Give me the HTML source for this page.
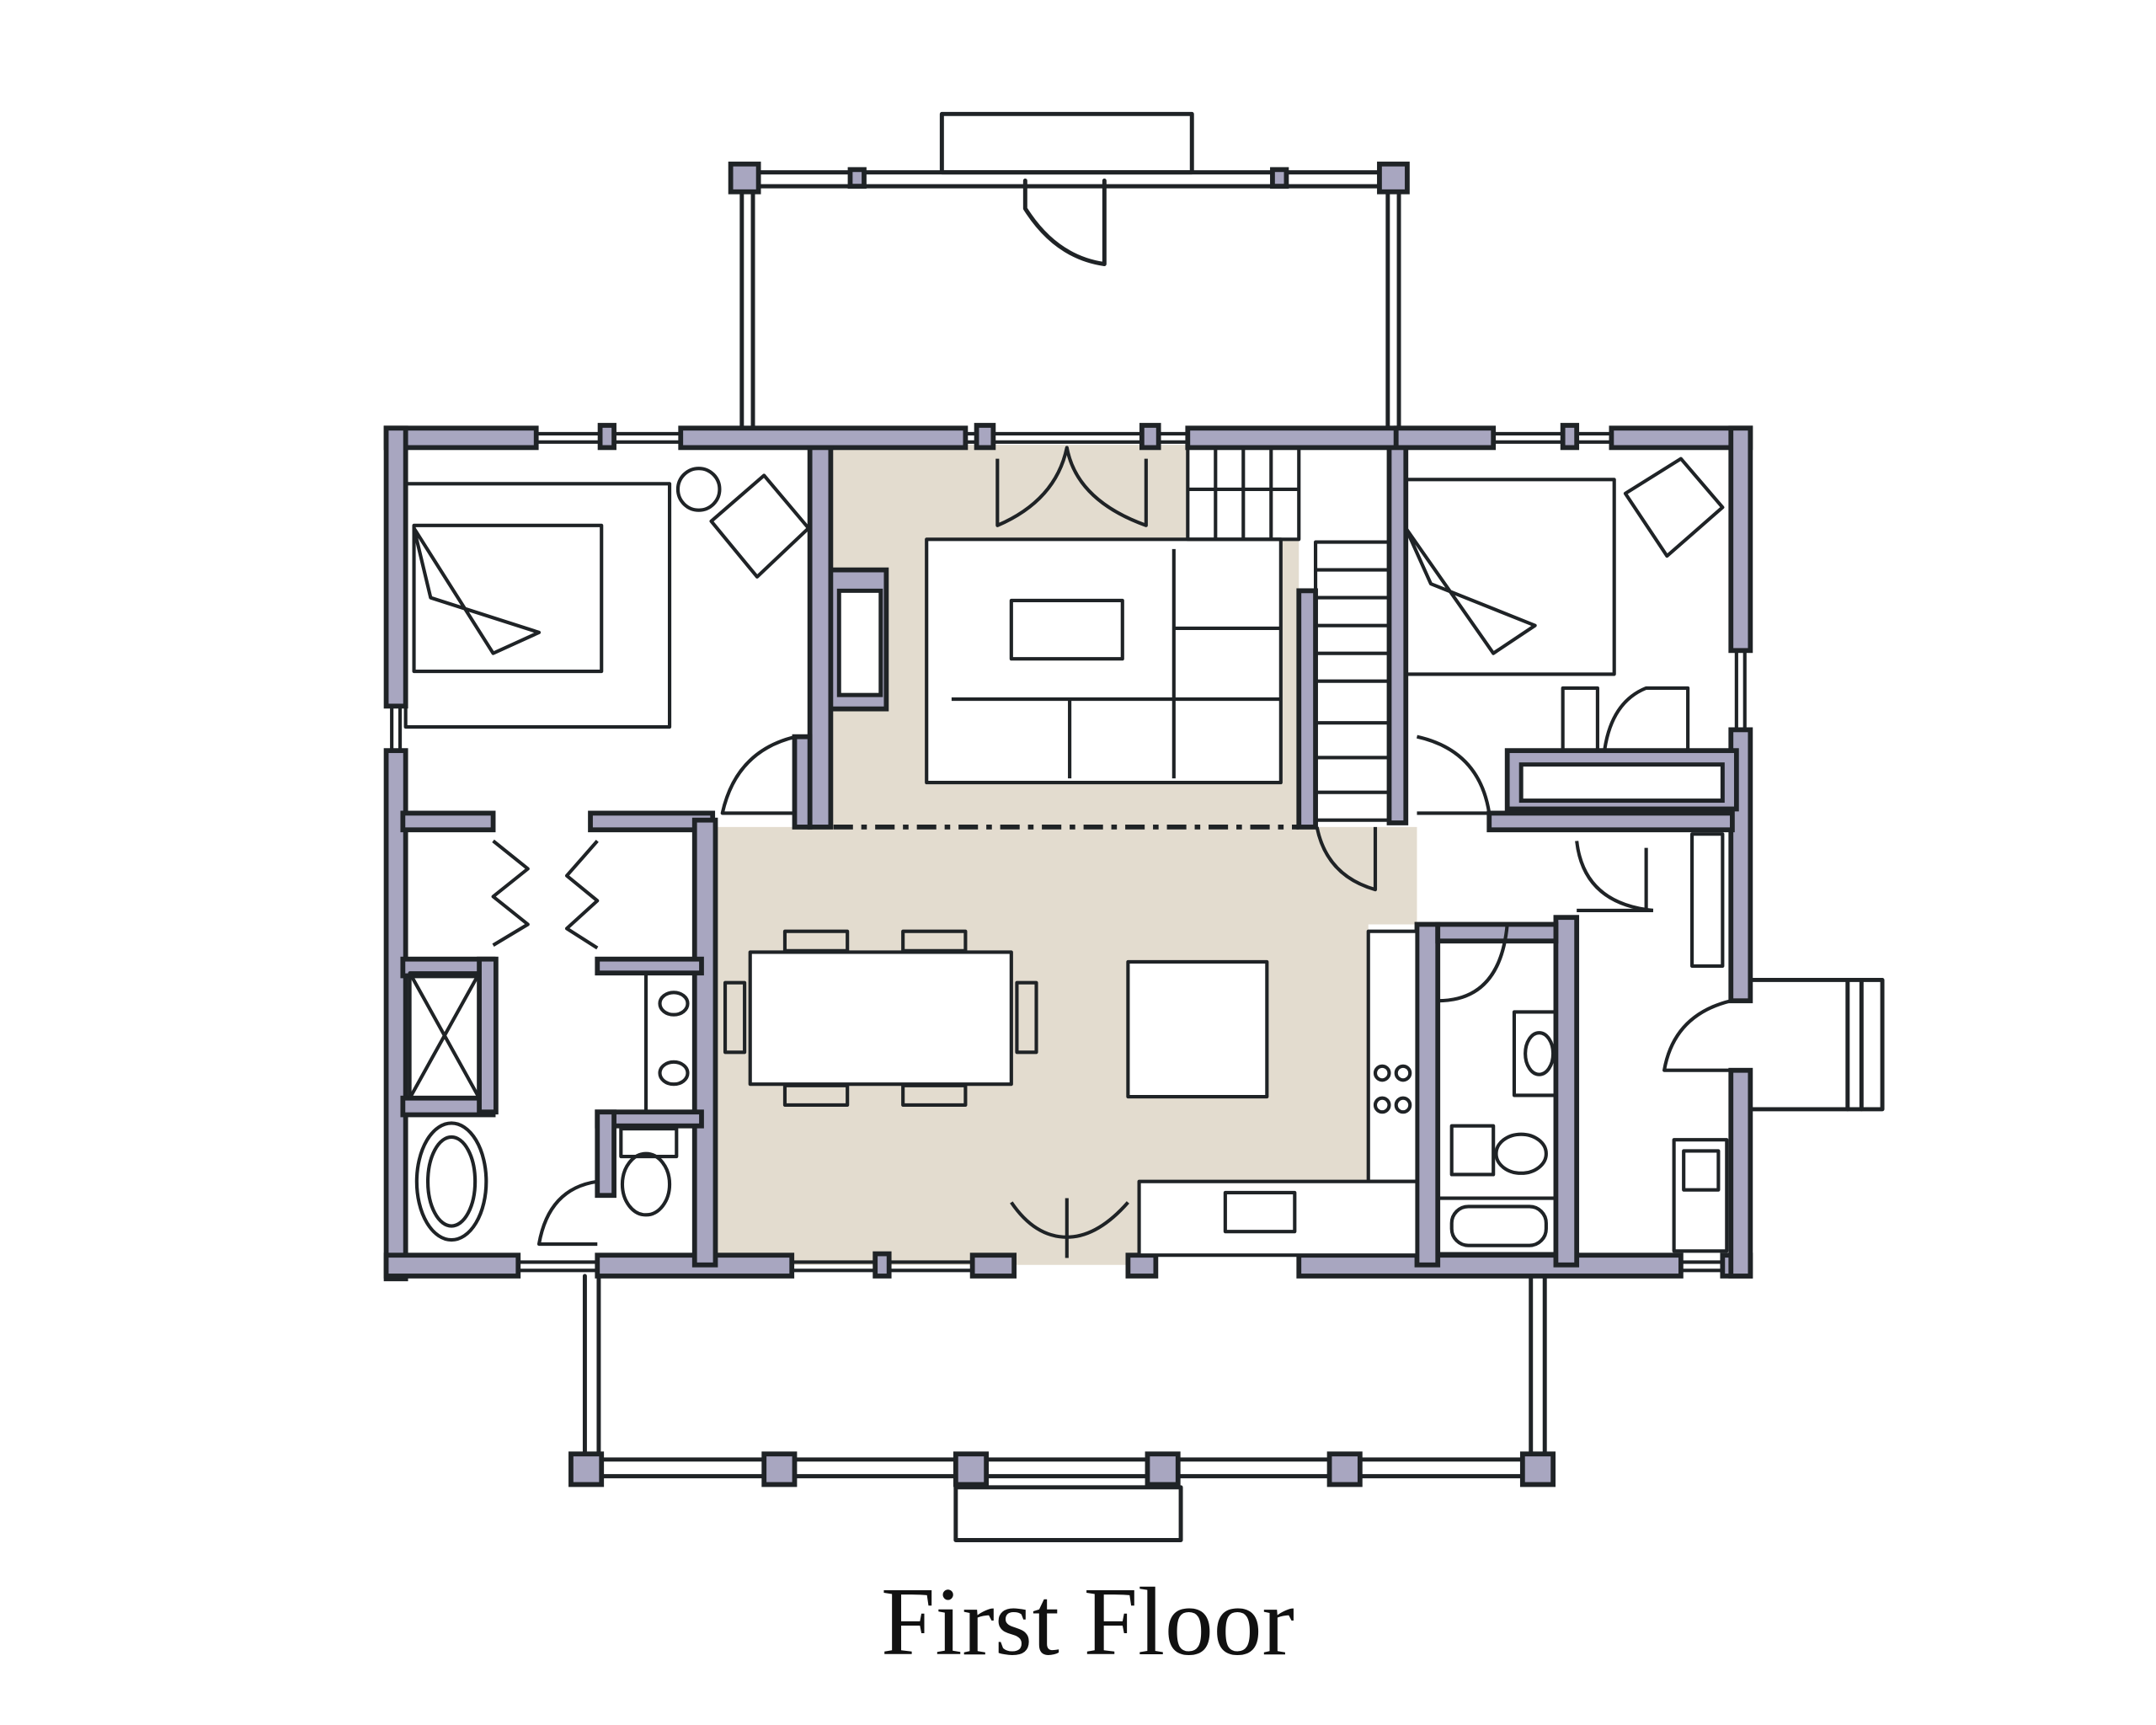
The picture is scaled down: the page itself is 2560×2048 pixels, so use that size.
<!DOCTYPE html>
<html><head><meta charset="utf-8"><style>
html,body{margin:0;padding:0;background:#fff;}
svg{display:block;}
</style></head><body>
<svg width="2560" height="2048" viewBox="0 0 1552 1241" preserveAspectRatio="none" xmlns="http://www.w3.org/2000/svg">
<rect width="1552" height="1241" fill="#fff"/>
<polygon points="598,320 855,320 855,388 935,388 935,595 1020,595 1020,665 985,665 985,850 820,850 820,910 513,910 513,595 598,595" fill="#e3dccf"/>
<g fill="none" stroke="#1f2326" stroke-width="3" stroke-linecap="round" stroke-linejoin="round">
<rect x="678" y="82" width="180" height="42"/>
<line x1="537" y1="124" x2="1003" y2="124"/>
<line x1="537" y1="134" x2="1003" y2="134"/>
<line x1="534" y1="140" x2="534" y2="310"/><line x1="542" y1="140" x2="542" y2="310"/>
<line x1="999" y1="140" x2="999" y2="310"/><line x1="1007" y1="140" x2="1007" y2="310"/>
<path d="M738 130 L738 150 Q760 185 795 190 L795 130"/>
<rect x="688" y="1070" width="162" height="38"/>
<line x1="425" y1="1050" x2="1108" y2="1050"/>
<line x1="425" y1="1062" x2="1108" y2="1062"/>
<line x1="421" y1="918" x2="421" y2="1048"/><line x1="431" y1="918" x2="431" y2="1048"/>
<line x1="1102" y1="918" x2="1102" y2="1048"/><line x1="1112" y1="918" x2="1112" y2="1048"/>
<path d="M1258 705 L1355 705 L1355 798 L1258 798"/>
<line x1="1330" y1="705" x2="1330" y2="798"/><line x1="1340" y1="705" x2="1340" y2="798"/>
</g>
<g fill="#a8a6c0" stroke="#1f2326" stroke-width="3.5">
<rect x="526" y="118" width="20" height="20"/><rect x="993" y="118" width="20" height="20"/>
<rect x="612" y="122" width="10" height="12"/><rect x="916" y="122" width="10" height="12"/>
<rect x="411" y="1046" width="22" height="22"/><rect x="550" y="1046" width="22" height="22"/>
<rect x="688" y="1046" width="22" height="22"/><rect x="826" y="1046" width="22" height="22"/>
<rect x="957" y="1046" width="22" height="22"/><rect x="1096" y="1046" width="22" height="22"/>
</g>
<g fill="#a8a6c0" stroke="#1f2326" stroke-width="3.5">
<rect x="278" y="308" width="108" height="14"/>
<rect x="490" y="308" width="205" height="14"/>
<rect x="855" y="308" width="150" height="14"/>
<rect x="1160" y="308" width="100" height="14"/>
<rect x="1005" y="308" width="70" height="14"/>
<rect x="278" y="308" width="14" height="200"/>
<rect x="278" y="540" width="14" height="380"/>
<rect x="278" y="903" width="95" height="15"/>
<rect x="430" y="903" width="140" height="15"/>
<rect x="700" y="903" width="30" height="15"/>
<rect x="812" y="903" width="20" height="15"/>
<rect x="935" y="903" width="275" height="15"/>
<rect x="1240" y="903" width="20" height="15"/>
<rect x="1246" y="308" width="14" height="160"/>
<rect x="1246" y="525" width="14" height="195"/>
<rect x="1246" y="770" width="14" height="148"/>
<rect x="583" y="322" width="15" height="273"/>
<rect x="572" y="530" width="11" height="65"/>
<rect x="598" y="410" width="40" height="100"/>
<rect x="1000" y="322" width="12" height="270"/>
<rect x="935" y="425" width="12" height="170"/>
<rect x="1085" y="540" width="165" height="42"/>
<rect x="1072" y="585" width="175" height="12"/>
<rect x="1120" y="660" width="15" height="250"/>
<rect x="1020" y="665" width="15" height="245"/>
<rect x="1035" y="665" width="85" height="12"/>
<rect x="290" y="585" width="65" height="12"/>
<rect x="425" y="585" width="88" height="12"/>
<rect x="500" y="590" width="15" height="320"/>
<rect x="290" y="690" width="65" height="12"/>
<rect x="290" y="790" width="65" height="12"/>
<rect x="430" y="690" width="75" height="10"/>
<rect x="430" y="800" width="75" height="10"/>
<rect x="430" y="800" width="12" height="60"/>
<rect x="345" y="690" width="12" height="110"/>
</g>
<g fill="#fff" stroke="#1f2326" stroke-width="3">
<rect x="604" y="425" width="30" height="75"/>
<rect x="1095" y="550" width="145" height="26"/>
</g>
<g stroke="#1f2326" stroke-width="2.5" fill="none">
<line x1="386" y1="312" x2="490" y2="312"/><line x1="386" y1="318" x2="490" y2="318"/>
<line x1="695" y1="312" x2="855" y2="312"/><line x1="695" y1="318" x2="855" y2="318"/>
<line x1="1075" y1="312" x2="1160" y2="312"/><line x1="1075" y1="318" x2="1160" y2="318"/>
<line x1="282" y1="508" x2="282" y2="540"/><line x1="288" y1="508" x2="288" y2="540"/>
<line x1="1250" y1="468" x2="1250" y2="525"/><line x1="1256" y1="468" x2="1256" y2="525"/>
<line x1="570" y1="908" x2="700" y2="908"/><line x1="570" y1="914" x2="700" y2="914"/>
<line x1="1210" y1="908" x2="1240" y2="908"/><line x1="1210" y1="914" x2="1240" y2="914"/>
<line x1="373" y1="908" x2="430" y2="908"/><line x1="373" y1="914" x2="430" y2="914"/>
</g>
<g fill="#a8a6c0" stroke="#1f2326" stroke-width="3.5">
<rect x="432" y="306" width="10" height="16"/><rect x="703" y="306" width="12" height="16"/>
<rect x="822" y="306" width="12" height="16"/><rect x="1125" y="306" width="10" height="16"/>
<rect x="630" y="902" width="10" height="16"/>
</g>
<g fill="none" stroke="#1f2326" stroke-width="2.5" stroke-linejoin="round">
<rect x="292" y="348" width="190" height="175"/>
<rect x="298" y="378" width="135" height="105"/>
<path d="M298 380 L355 470 L388 455 L310 430 Z"/>
<circle cx="503" cy="352" r="15"/>
<path d="M512 375 L550 342 L582 380 L545 415 Z"/>
<rect x="667" y="388" width="255" height="175" fill="#fff"/>
<rect x="728" y="432" width="80" height="42"/>
<line x1="845" y1="395" x2="845" y2="560"/>
<line x1="685" y1="503" x2="922" y2="503"/>
<line x1="770" y1="503" x2="770" y2="560"/>
<line x1="845" y1="452" x2="922" y2="452"/>
<path d="M718 330 L718 378 Q760 360 768 322 Q775 360 825 378 L825 330"/>
<rect x="855" y="322" width="80" height="66"/>
<line x1="875" y1="322" x2="875" y2="388"/><line x1="895" y1="322" x2="895" y2="388"/><line x1="915" y1="322" x2="915" y2="388"/>
<line x1="855" y1="352" x2="935" y2="352"/>
<rect x="947" y="390" width="53" height="200"/>
<line x1="947" y1="410" x2="1000" y2="410"/><line x1="947" y1="430" x2="1000" y2="430"/>
<line x1="947" y1="450" x2="1000" y2="450"/><line x1="947" y1="470" x2="1000" y2="470"/>
<line x1="947" y1="490" x2="1000" y2="490"/><line x1="947" y1="520" x2="1000" y2="520"/>
<line x1="947" y1="545" x2="1000" y2="545"/><line x1="947" y1="570" x2="1000" y2="570"/>
<line x1="600" y1="595" x2="935" y2="595" stroke-dasharray="14 6 4 6" stroke-width="3.5"/>
<path d="M990 595 L990 640 Q955 630 948 595"/>
<rect x="1012" y="345" width="150" height="140"/>
<path d="M1012 380 L1075 470 L1105 450 L1030 420 Z"/>
<path d="M1170 355 L1210 330 L1240 365 L1200 400 Z"/>
<path d="M1125 540 L1125 495 L1150 495 L1150 540 M1155 540 Q1160 505 1185 495 L1215 495 L1215 540"/>
<path d="M573 530 Q530 540 520 585 L573 585"/>
<path d="M1020 530 Q1065 540 1072 585 L1020 585"/>
<path d="M1135 605 Q1140 650 1190 655"/>
<line x1="1135" y1="655" x2="1190" y2="655"/><line x1="1185" y1="610" x2="1185" y2="655"/>
<path d="M1246 720 Q1205 730 1198 770 L1246 770"/>
<path d="M1035 720 Q1080 720 1085 665"/>
<path d="M430 850 Q395 855 388 895 L430 895"/>
<path d="M728 865 Q745 890 768 890 Q790 890 812 865"/>
<line x1="768" y1="862" x2="768" y2="905"/>
<path d="M355 605 L380 625 L355 645 L380 665 L355 680"/>
<path d="M430 605 L408 630 L430 648 L408 668 L430 682"/>
<rect x="295" y="700" width="50" height="90"/><path d="M295 700 L345 790 M345 700 L295 790"/>
<ellipse cx="325" cy="850" rx="25" ry="42"/><ellipse cx="325" cy="850" rx="17" ry="32"/>
<rect x="465" y="700" width="35" height="100"/>
<ellipse cx="485" cy="722" rx="10" ry="8"/><ellipse cx="485" cy="772" rx="10" ry="8"/>
<rect x="447" y="812" width="40" height="20"/><ellipse cx="465" cy="852" rx="17" ry="22"/>
<rect x="540" y="685" width="188" height="95" fill="#fff"/>
<rect x="522" y="707" width="14" height="50"/><rect x="732" y="707" width="14" height="50"/>
<rect x="565" y="670" width="45" height="14"/><rect x="650" y="670" width="45" height="14"/>
<rect x="565" y="781" width="45" height="14"/><rect x="650" y="781" width="45" height="14"/>
<rect x="812" y="692" width="100" height="97" fill="#fff"/>
<rect x="985" y="670" width="35" height="180" fill="#fff"/>
<rect x="820" y="850" width="200" height="53" fill="#fff"/>
<circle cx="995" cy="772" r="5"/><circle cx="1010" cy="772" r="5"/><circle cx="995" cy="795" r="5"/><circle cx="1010" cy="795" r="5"/>
<rect x="882" y="858" width="50" height="28"/>
<rect x="1090" y="728" width="30" height="60"/><ellipse cx="1108" cy="758" rx="10" ry="15"/>
<rect x="1045" y="810" width="30" height="35"/><ellipse cx="1095" cy="830" rx="18" ry="14"/>
<rect x="1035" y="862" width="85" height="40"/><rect x="1045" y="868" width="68" height="28" rx="12"/>
<rect x="1205" y="820" width="38" height="80"/><rect x="1212" y="828" width="25" height="28"/>
<rect x="1218" y="600" width="22" height="95"/>
</g>
<text x="783" y="1190" text-anchor="middle" font-family="'Liberation Serif', serif" font-size="70" fill="#111">First Floor</text>
</svg>
</body></html>
